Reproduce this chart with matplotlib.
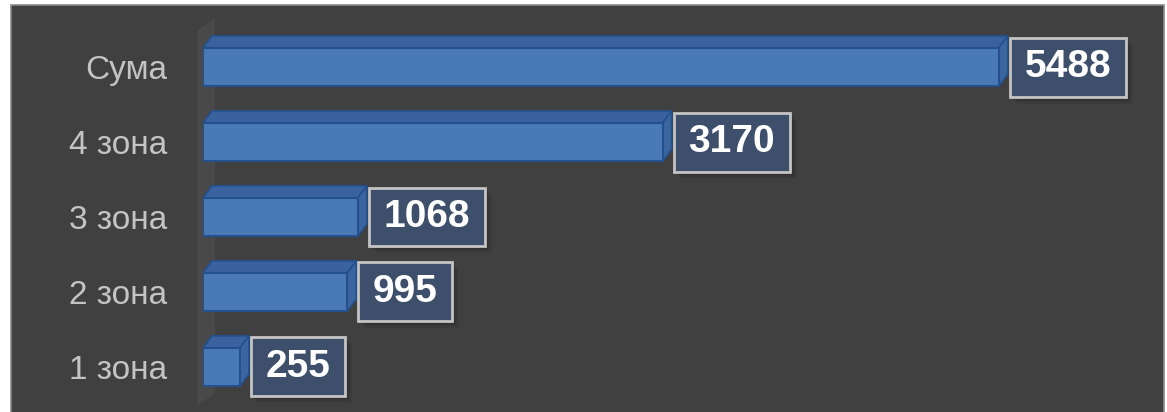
import matplotlib
matplotlib.use('Agg')
import matplotlib.pyplot as plt
from matplotlib.patches import Polygon, Rectangle

plt.rcParams['font.family'] = ['Liberation Sans', 'DejaVu Sans']

# дані
categories = ['1 зона', '2 зона', '3 зона', '4 зона', 'Сума']
values = [255, 995, 1068, 3170, 5488]

W, H = 1167, 412
fig = plt.figure(figsize=(W / 100, H / 100), dpi=100, facecolor='white')

# темний фон діаграми
fig.patches.append(Rectangle((11 / W, -0.01), (1164 - 11) / W, (H - 5) / H + 0.01,
                             transform=fig.transFigure, facecolor='#404040',
                             edgecolor='#8a8a8a', linewidth=1.2, zorder=-10))

ax_left, ax_right = 203, 1164
ax = fig.add_axes([ax_left / W, 7 / H, (ax_right - ax_left) / W, 400 / H])
ax.set_zorder(1)
ax.patch.set_visible(False)
for s in ax.spines.values():
    s.set_visible(False)

px_per_unit = 0.145
xmax = (ax_right - ax_left) / px_per_unit
ax.set_xlim(0, xmax)
ax.set_ylim(-0.507, 4.827)
px_y = 75.0  # пікселів на одну категорію

dx = 9 / px_per_unit
dy = 12 / px_y
bar_h = 0.51

ax.set_xticks([])
ax.set_yticks(range(len(categories)))
ax.set_yticklabels(categories, color='#c4c4c4', fontsize=24)
ax.tick_params(axis='y', length=0, pad=26)

# бічна стінка
wl, wr = -6 / px_per_unit, 12 / px_per_unit
ax.add_patch(Polygon([(wl, -0.52), (wr, -0.52 + 13 / px_y), (wr, 4.66),
                      (wl, 4.66 - 13 / px_y)], closed=True,
                     facecolor='#494949', edgecolor='none', zorder=1, clip_on=False))

for i, v in enumerate(values):
    y0, y1 = i - bar_h / 2, i + bar_h / 2
    # верхня грань
    ax.add_patch(Polygon([(0, y1), (dx, y1 + dy), (v + dx, y1 + dy), (v, y1)],
                         closed=True, facecolor='#3a629e', edgecolor='#24508e',
                         linewidth=1.2, zorder=2))
    # бокова грань
    ax.add_patch(Polygon([(v, y0), (v + dx, y0 + dy), (v + dx, y1 + dy), (v, y1)],
                         closed=True, facecolor='#3a659f', edgecolor='#24508e',
                         linewidth=1.2, zorder=2))
ax.barh(range(len(categories)), values, height=bar_h, color='#4a7ab5',
        edgecolor='#24508e', linewidth=1.5, zorder=3)

# підписи значень
for i, v in enumerate(values):
    txt = str(v)
    bx = v + 11 / px_per_unit
    bw = (len(txt) * 22 + 28) / px_per_unit
    bh = 59 / px_y
    for k, a in enumerate([0.10, 0.08, 0.06]):
        off = 3 + 2 * k
        ax.add_patch(Rectangle((bx + off / px_per_unit, i - bh / 2 - off / px_y), bw, bh,
                               facecolor='black', alpha=a, edgecolor='none', zorder=4))
    ax.add_patch(Rectangle((bx, i - bh / 2), bw, bh, facecolor='#3d4f6b',
                           edgecolor='#c4c4c4', linewidth=2, zorder=5))
    ax.text(bx + bw / 2, i, txt, color='white', fontsize=28, fontweight='bold',
            ha='center', va='center', zorder=6)

fig.savefig('out.png', dpi=100, facecolor='white')
